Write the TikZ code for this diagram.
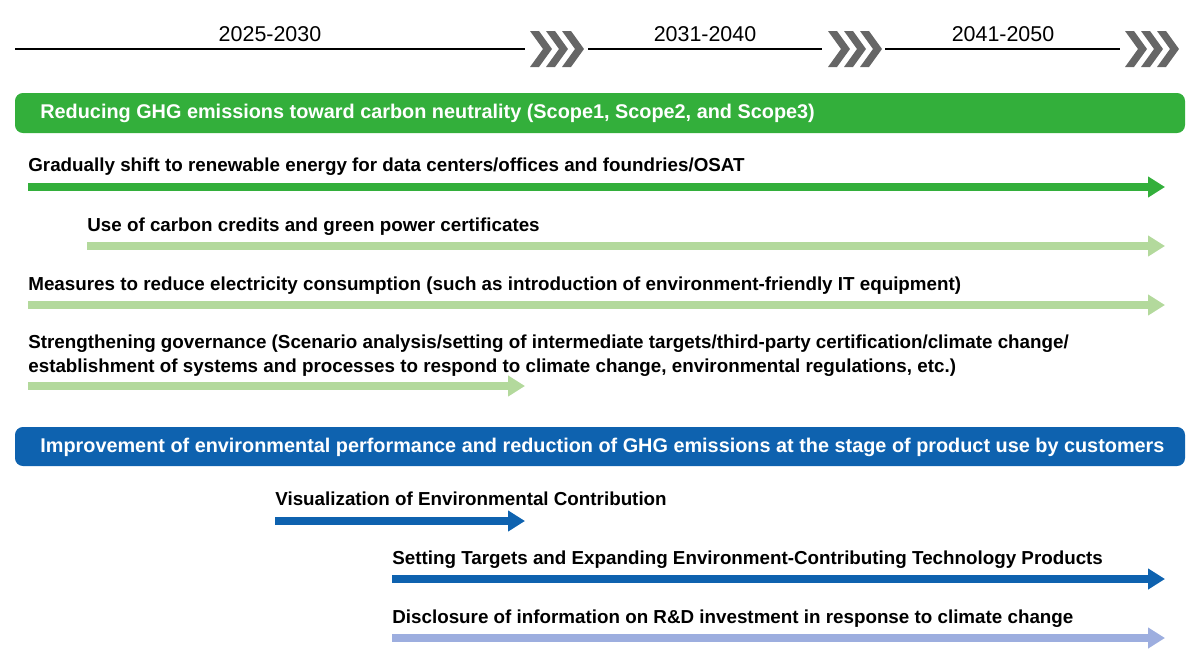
\documentclass[tikz,border=0pt]{standalone}
\usepackage{fontspec}
\setmainfont{Liberation Sans}
\usetikzlibrary{arrows.meta}

\definecolor{ghggreen}{HTML}{33AF3B}
\definecolor{palegreen}{HTML}{B3D99C}
\definecolor{ghgblue}{HTML}{0E62AF}
\definecolor{paleblue}{HTML}{9DAEDF}
\definecolor{chevgray}{HTML}{666666}

\tikzset{
  item/.style={anchor=base west, inner sep=0pt, font=\fontsize{10.7}{12}\selectfont\bfseries},
  head/.style={anchor=west, inner sep=0pt, text=white, font=\fontsize{11.3}{14}\selectfont\bfseries},
  year/.style={inner sep=0pt, font=\fontsize{12.2}{14}\selectfont},
  track/.style={line width=4pt, -{Triangle[length=9.6pt, width=11.3pt]}},
}

\begin{document}
\begin{tikzpicture}[x=0.02cm, y=-0.02cm]
  \useasboundingbox (0,0) rectangle (1200,666);

  % timeline
  \coordinate (t1) at (15,49);  \coordinate (t2) at (525,49);
  \coordinate (t3) at (588,49); \coordinate (t4) at (822,49);
  \coordinate (t5) at (885,49); \coordinate (t6) at (1120,49);
  \draw[line width=0.6pt] (t1) -- (t2) (t3) -- (t4) (t5) -- (t6);
  \node[year] (y1) at (270,34) {2025-2030};
  \node[year] (y2) at (705,34) {2031-2040};
  \node[year] (y3) at (1003,34) {2041-2050};
  \foreach \x in {530,828,1125}
    \foreach \k in {0,16,32}
      \fill[chevgray] (\x+\k,31) -- ++(9,0) -- ++(13,18) -- ++(-13,18) -- ++(-9,0) -- ++(13,-18) -- cycle;

  % scope 1-3
  \fill[ghggreen, rounded corners=4.5pt] (15,93) rectangle (1185,133);
  \node[head] (h1) at (40,113) {Reducing GHG emissions toward carbon neutrality (Scope1, Scope2, and Scope3)};

  \node[item] (a1) at (28,171) {Gradually shift to renewable energy for data centers/offices and foundries/OSAT};
  \coordinate (a1s) at (28,187); \coordinate (a1e) at (1165,187);
  \draw[track, ghggreen] (a1s) -- (a1e);

  \node[item] (a2) at (87,231) {Use of carbon credits and green power certificates};
  \coordinate (a2s) at (87,246); \coordinate (a2e) at (1165,246);
  \draw[track, palegreen] (a2s) -- (a2e);

  \node[item] (a3) at (28,290) {Measures to reduce electricity consumption (such as introduction of environment-friendly IT equipment)};
  \coordinate (a3s) at (28,305); \coordinate (a3e) at (1165,305);
  \draw[track, palegreen] (a3s) -- (a3e);

  \node[item] (a4) at (28,348) {Strengthening governance (Scenario analysis/setting of intermediate targets/third-party certification/climate change/};
  \node[item] (a4b) at (28,372) {establishment of systems and processes to respond to climate change, environmental regulations, etc.)};
  \coordinate (a4s) at (28,386); \coordinate (a4e) at (525,386);
  \draw[track, palegreen] (a4s) -- (a4e);

  % product use
  \fill[ghgblue, rounded corners=4.5pt] (15,427) rectangle (1185,466);
  \node[head] (h2) at (40,447) {Improvement of environmental performance and reduction of GHG emissions at the stage of product use by customers};

  \node[item] (b1) at (275,505) {Visualization of Environmental Contribution};
  \coordinate (b1s) at (275,521); \coordinate (b1e) at (525,521);
  \draw[track, ghgblue] (b1s) -- (b1e);

  \node[item] (b2) at (392,564) {Setting Targets and Expanding Environment-Contributing Technology Products};
  \coordinate (b2s) at (392,579); \coordinate (b2e) at (1165,579);
  \draw[track, ghgblue] (b2s) -- (b2e);

  \node[item] (b3) at (392,623) {Disclosure of information on R\&D investment in response to climate change};
  \coordinate (b3s) at (392,638); \coordinate (b3e) at (1165,638);
  \draw[track, paleblue] (b3s) -- (b3e);
\end{tikzpicture}
\end{document}
